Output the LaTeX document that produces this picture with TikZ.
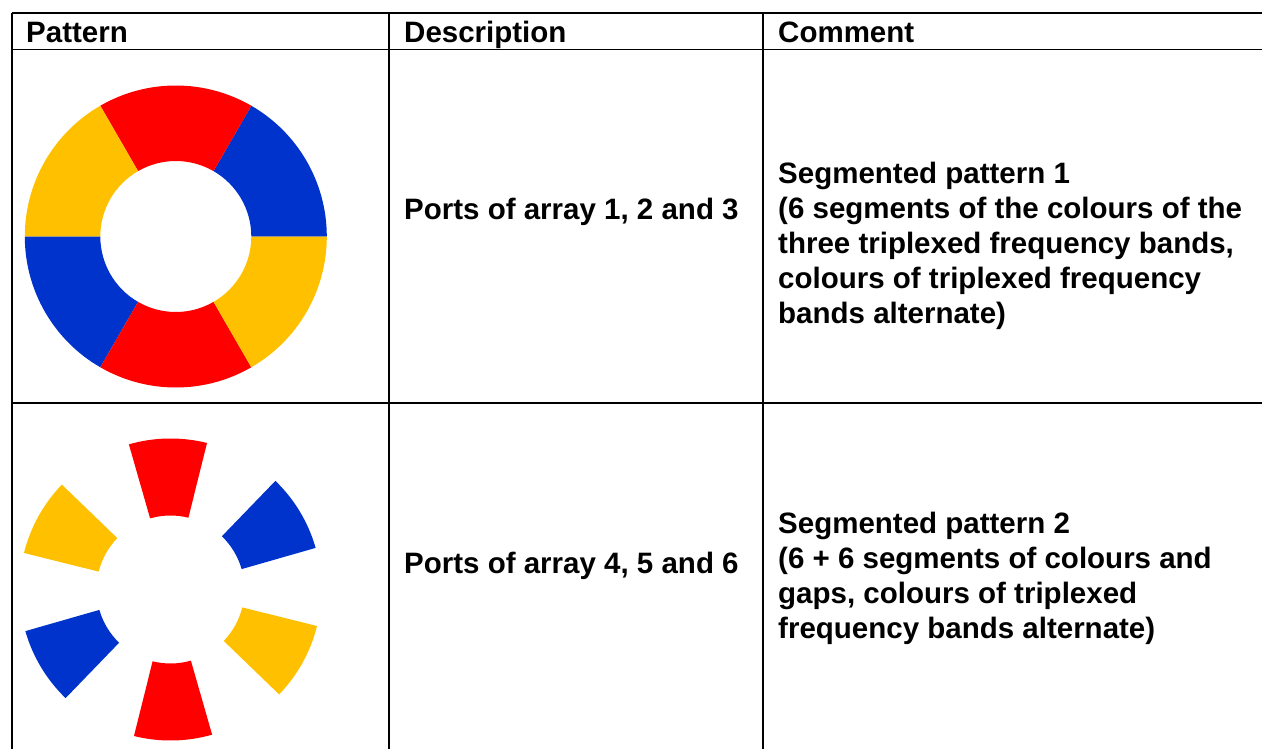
\documentclass[tikz,border=0pt]{standalone}
\usepackage{fontspec}
\setmainfont{Liberation Sans}
\definecolor{segred}{HTML}{FF0000}
\definecolor{segblue}{HTML}{0033CC}
\definecolor{segyellow}{HTML}{FFC000}
\newcommand{\ringseg}[6]{% center, colour, start, end, outer, inner
  \fill[#2,shift={#1}] (#3:#5) arc[start angle=#3,end angle=#4,radius=#5]
    -- (#4:#6) arc[start angle=#4,end angle=#3,radius=#6] -- cycle;}
\begin{document}
\begin{tikzpicture}[x=1pt,y=1pt,
  rule/.style={line width=1.6pt,black},
  celltext/.style={anchor=base west,inner sep=0pt,align=left,
    font=\bfseries\fontsize{29.5}{35}\selectfont}]
\useasboundingbox (0,0) rectangle (1262,-749);
% coordinates of table corners
\coordinate (tl) at (12,-13);
\coordinate (tr) at (1262,-13);
\coordinate (hl) at (12,-49.5);
\coordinate (hr) at (1262,-49.5);
\coordinate (rl) at (12,-403);
\coordinate (rr) at (1262,-403);
\coordinate (bl) at (12,-749);
\coordinate (c1t) at (389,-13);
\coordinate (c1b) at (389,-749);
\coordinate (c2t) at (763,-13);
\coordinate (c2b) at (763,-749);
% pattern 1: full ring
\coordinate (ringA) at (175.8,-236.5);
\ringseg{(ringA)}{segblue}{0}{60}{151}{75.5}
\ringseg{(ringA)}{segred}{60}{120}{151}{75.5}
\ringseg{(ringA)}{segyellow}{120}{180}{151}{75.5}
\ringseg{(ringA)}{segblue}{180}{240}{151}{75.5}
\ringseg{(ringA)}{segred}{240}{300}{151}{75.5}
\ringseg{(ringA)}{segyellow}{300}{360}{151}{75.5}
% pattern 2: segments with gaps
\coordinate (ringB) at (170.5,-589.5);
\ringseg{(ringB)}{segblue}{16}{46}{151}{74}
\ringseg{(ringB)}{segred}{76}{106}{151}{74}
\ringseg{(ringB)}{segyellow}{136}{166}{151}{74}
\ringseg{(ringB)}{segblue}{196}{226}{151}{74}
\ringseg{(ringB)}{segred}{256}{286}{151}{74}
\ringseg{(ringB)}{segyellow}{316}{346}{151}{74}
% table rules
\draw[rule] (tl) -- (tr);
\draw[rule] (hl) -- (hr);
\draw[rule] (rl) -- (rr);
\draw[rule] (tl) -- (bl);
\draw[rule] (c1t) -- (c1b);
\draw[rule] (c2t) -- (c2b);
% header
\node[celltext] (hpat) at (26,-42.3) {Pattern};
\node[celltext] (hdesc) at (404,-42.3) {Description};
\node[celltext] (hcom) at (778,-42.3) {Comment};
% row 1 (base anchor = baseline of the last line)
\node[celltext] (d1) at (404,-219.5) {Ports of array 1, 2 and 3};
\node[celltext] (m1) at (778,-323) {Segmented pattern 1\\(6 segments of the colours of the\\three triplexed frequency bands,\\colours of triplexed frequency\\bands alternate)};
% row 2
\node[celltext] (d2) at (404,-573.5) {Ports of array 4, 5 and 6};
\node[celltext] (m2) at (778,-638) {Segmented pattern 2\\(6 + 6 segments of colours and\\gaps, colours of triplexed\\frequency bands alternate)};
\end{tikzpicture}
\end{document}
